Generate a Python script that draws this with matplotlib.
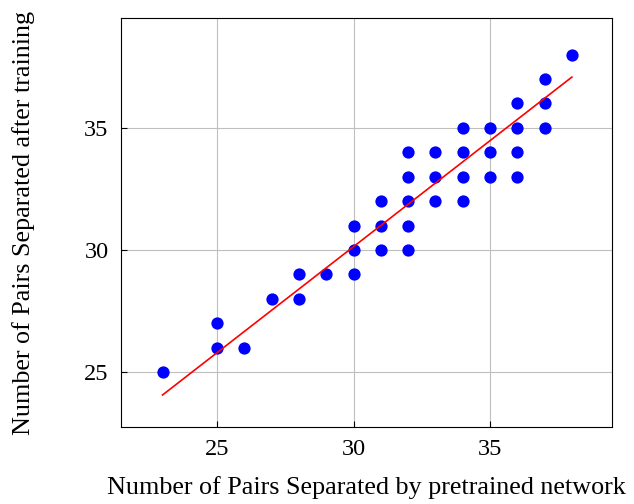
import numpy as np
import matplotlib.pyplot as plt

plt.rcParams['font.family'] = ['Liberation Serif', 'DejaVu Serif']
plt.rcParams['mathtext.fontset'] = 'stix'

# pairs separated: pretrained network (x) vs after training (y)
pretrained = [23, 25, 25, 26, 27, 28, 28, 29, 30, 30, 30, 31, 31, 31,
              32, 32, 32, 32, 32, 33, 33, 33, 34, 34, 34, 34, 35, 35, 35,
              36, 36, 36, 36, 37, 37, 37, 38]
trained = [25, 27, 26, 26, 28, 29, 28, 29, 31, 30, 29, 32, 31, 30,
           34, 33, 32, 31, 30, 34, 33, 32, 35, 34, 33, 32, 35, 34, 33,
           36, 35, 34, 33, 37, 36, 35, 38]

# fitted line end points
fit_x = [23, 38]
fit_y = [24.06, 37.08]

fig = plt.figure(figsize=(6.34, 5.04), dpi=100)
fig.subplots_adjust(left=0.1909, right=0.9653, top=0.9643, bottom=0.1528)
ax = fig.add_subplot(111)

ax.scatter(pretrained, trained, s=78, color='#0000ff', zorder=3, linewidths=0)
ax.plot(fit_x, fit_y, color='red', lw=1.2, zorder=4)

ax.set_xlim(21.48, 39.47)
ax.set_ylim(22.75, 39.5)
ax.set_xticks([25, 30, 35])
ax.set_yticks([25, 30, 35])
ax.grid(True, color='#bfbfbf', lw=0.8)
ax.set_axisbelow(True)
ax.tick_params(direction='in', length=4, labelsize=17.5, pad=9)
for s in ax.spines.values():
    s.set_linewidth(0.8)

ax.set_xlabel('Number of Pairs Separated by pretrained network', fontsize=18.8, labelpad=11)
ax.set_ylabel('Number of Pairs Separated after training', fontsize=18.8, labelpad=35)

fig.savefig('out.png', dpi=100)
